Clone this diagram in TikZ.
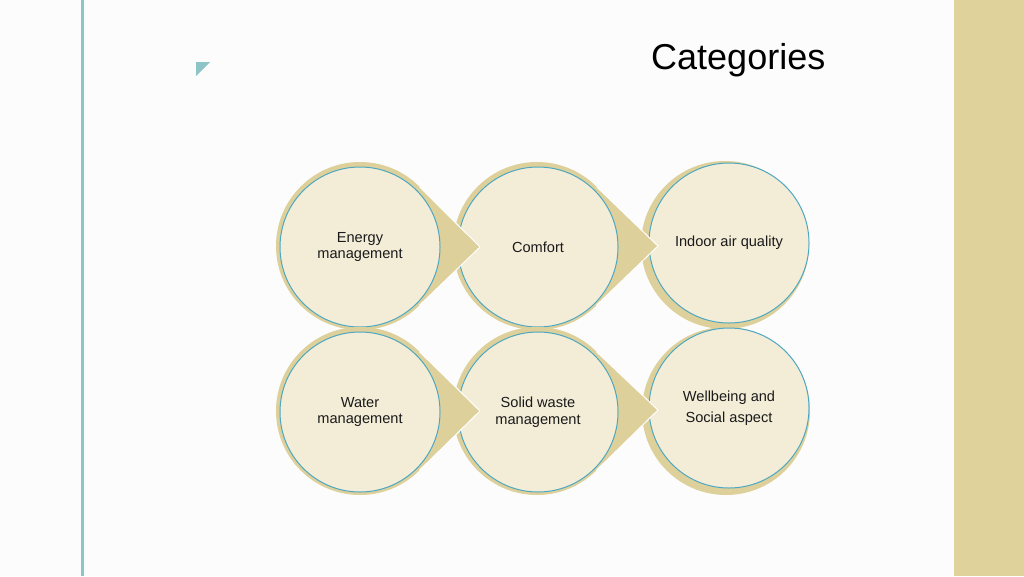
\documentclass[tikz,border=0pt]{standalone}
\usepackage{fontspec}
\setmainfont{Liberation Sans}
\definecolor{bandtan}{HTML}{DFD39B}
\definecolor{disctan}{HTML}{DDD09A}
\definecolor{disccream}{HTML}{F3EDD8}
\definecolor{rimblue}{HTML}{4EA8C2}
\definecolor{railteal}{HTML}{8DC4C6}
\definecolor{textgray}{HTML}{1A1A1A}

\begin{document}
\begin{tikzpicture}[x=1pt, y=-1pt,
    backdisc/.style={circle, fill=disctan, inner sep=0pt, outer sep=0pt, minimum size=168pt},
    frontdisc/.style={circle, draw=rimblue, line width=1pt, fill=disccream, inner sep=0pt,
      minimum size=160pt, align=center, text=textgray, font=\fontsize{14.6}{16.5}\selectfont},
    chevronfill/.style={fill=disctan},
    chevronedge/.style={draw=white, line width=1pt}]

      % page
      \fill[white!99!black] (0,0) rectangle (1024,576);
      \useasboundingbox (0,0) rectangle (1024,576);
      \fill[railteal] (81,0) rectangle (84,576);
      \fill[bandtan] (954,0) rectangle (1024,576);
      \fill[railteal] (196,62) -- (210,62) -- (196,76) -- cycle;
      \node[anchor=base west, inner sep=0pt, font=\fontsize{36}{40}\selectfont] (title) at (651,69) {Categories};

      % top row, right to left
      \node[backdisc] (iaqB) at (725,245) {};
      \node[frontdisc] (iaq) at (729,243) {Indoor air quality};

      \node[backdisc] (comB) at (537,246) {};
      \coordinate (comTip) at (658,246);
      \fill[chevronfill] (comB.45) -- (comTip) -- (comB.-45) -- cycle;
      \draw[chevronedge] (comB.45) -- (comTip) -- (comB.-45);
      \node[frontdisc] (com) at (538,247) {Comfort};

      \node[backdisc] (engB) at (360,246) {};
      \coordinate (engTip) at (480,247);
      \fill[chevronfill] (engB.45) -- (engTip) -- (engB.-45) -- cycle;
      \draw[chevronedge] (engB.45) -- (engTip) -- (engB.-45);
      \node[frontdisc] (eng) at (360,247) {Energy\\management};

      % bottom row, right to left
      \node[backdisc] (welB) at (726,411) {};
      \node[frontdisc] (wel) at (729,408) {Wellbeing and\\[5pt]Social aspect};

      \node[backdisc] (solB) at (537,411) {};
      \coordinate (solTip) at (658,410);
      \fill[chevronfill] (solB.45) -- (solTip) -- (solB.-45) -- cycle;
      \draw[chevronedge] (solB.45) -- (solTip) -- (solB.-45);
      \node[frontdisc] (sol) at (538,412) {Solid waste\\management};

      \node[backdisc] (watB) at (360,411) {};
      \coordinate (watTip) at (480,411);
      \fill[chevronfill] (watB.45) -- (watTip) -- (watB.-45) -- cycle;
      \draw[chevronedge] (watB.45) -- (watTip) -- (watB.-45);
      \node[frontdisc] (wat) at (360,412) {Water\\management};
\end{tikzpicture}
\end{document}
